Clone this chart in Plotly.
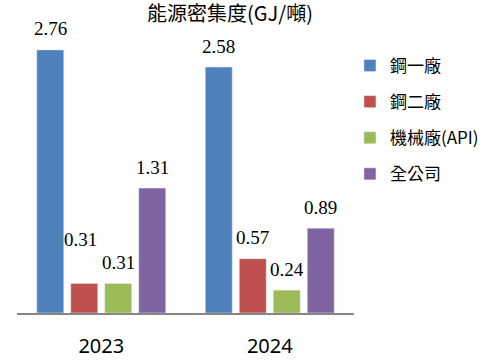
import plotly.graph_objects as go

title = "能源密集度(GJ/噸)"
years = ["2023", "2024"]
series_names = ["鋼一廠", "鋼二廠", "機械廠(API)", "全公司"]
steel1 = [2.76, 2.58]
steel2 = [0.31, 0.57]
machinery = [0.31, 0.24]
company = [1.31, 0.89]
series_values = [steel1, steel2, machinery, company]
colors = ["#4F81BD", "#C0504D", "#9BBB59", "#8064A2"]

W, H = 500, 360
ML, MR, MT, MB = 17, 146, 27, 47
BARGAP = 0.193
BARGROUPGAP = 0.206
YMAX = 3.0

fig = go.Figure()
for i, (name, vals, col) in enumerate(zip(series_names, series_values, colors)):
    fig.add_trace(go.Bar(
        x=years, y=vals, name=name, marker=dict(color=col),
        legendgroup=name, hoverinfo="none",
    ))

# value labels above bars (x given as category index to stay on the category axis)
plot_w = W - ML - MR
cat_w = plot_w / len(years)
slot = cat_w * (1 - BARGAP) / len(series_names)
label_font = dict(family="Liberation Serif, Times New Roman, serif", size=19, color="#000000")
for i, vals in enumerate(series_values):
    off = (i - (len(series_names) - 1) / 2) * slot
    for j, v in enumerate(vals):
        ys, xs = 21, 0
        if i == 1 and j == 0:  # label nudged up to avoid overlap
            ys, xs = 44, -3.5
        fig.add_annotation(
            x=j, y=v, xref="x", yref="y", text=f"{v:.2f}",
            showarrow=False, xshift=off + xs, yshift=ys,
            yanchor="middle", xanchor="center", font=label_font,
        )

fig.update_layout(
    width=W, height=H,
    margin=dict(l=ML, r=MR, t=MT, b=MB),
    paper_bgcolor="white", plot_bgcolor="white",
    barmode="group", bargap=BARGAP, bargroupgap=BARGROUPGAP,
    showlegend=True,
    title=dict(text=title, x=230 / W, xanchor="center", y=1 - 14 / H, yanchor="middle",
               font=dict(family="Noto Sans CJK TC, Noto Sans CJK SC, sans-serif", size=20, color="#000000")),
    legend=dict(
        x=0.988, y=1 - 21 / (H - MT - MB),
        xanchor="left", yanchor="top",
        font=dict(family="Noto Sans CJK TC, sans-serif", size=17, color="#000000"),
        tracegroupgap=11, traceorder="grouped",
        bgcolor="rgba(0,0,0,0)",
    ),
    xaxis=dict(
        type="category", automargin=False,
        range=[-0.5, len(years) - 0.5],
        showline=True, linecolor="#868686", linewidth=2,
        ticks="outside", ticklen=14, tickcolor="rgba(0,0,0,0)",
        tickfont=dict(family="Noto Sans, sans-serif", size=20, color="#000000"),
        showgrid=False, zeroline=False,
    ),
    yaxis=dict(
        range=[0, YMAX], automargin=False, showticklabels=False, showline=False, ticks="",
        showgrid=False, zeroline=False,
    ),
)

fig.write_html("out.html", config={"displayModeBar": False},
               post_script="document.body.style.margin='0';")
